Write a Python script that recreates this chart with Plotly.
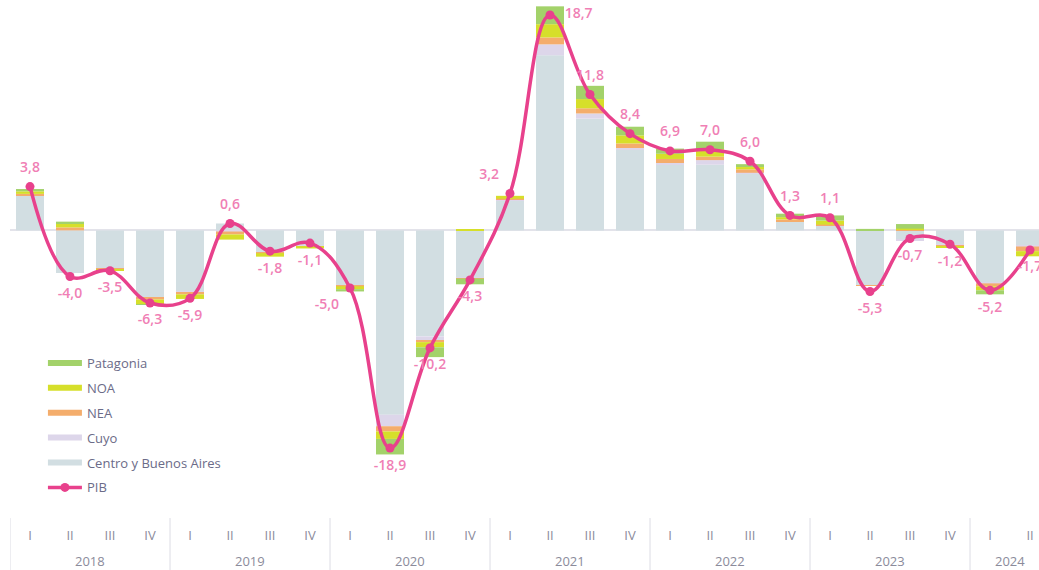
import plotly.graph_objects as go

# Quarters and years
years = ["2018", "2019", "2020", "2021", "2022", "2023", "2024"]
quarters = ["I", "II", "III", "IV"] * 6 + ["I", "II"]
periods = [f"{q} {years[i // 4]}" for i, q in enumerate(quarters)]

# PIB variation (line)
pib = [3.8, -4.0, -3.5, -6.3, -5.9, 0.6, -1.8, -1.1, -5.0, -18.9, -10.2, -4.3,
       3.2, 18.7, 11.8, 8.4, 6.9, 7.0, 6.0, 1.3, 1.1, -5.3, -0.7, -1.2, -5.2, -1.7]

# Regional contributions (stacked bars)
centro = [3.0, -3.7, -3.3, -5.8, -5.3, 0.6, -1.9, -1.35, -4.75, -16.0, -9.2, -4.1,
          2.6, 15.2, 9.7, 7.0, 5.7, 5.7, 4.95, 0.75, 0.45, -4.75, -0.8, -1.25, -4.55, -1.35]
cuyo = [0.05, 0.0, -0.02, -0.05, -0.05, -0.1, -0.03, -0.02, -0.05, -1.0, -0.35, -0.05,
        0.05, 0.95, 0.45, 0.15, 0.15, 0.4, 0.05, 0.05, 0.0, -0.05, -0.05, -0.03, -0.05, -0.05]
nea = [0.12, 0.26, -0.08, -0.15, -0.2, -0.25, -0.05, -0.03, -0.05, -0.45, -0.15, -0.03,
       0.1, 0.6, 0.45, 0.4, 0.35, 0.3, 0.3, 0.15, 0.05, -0.02, 0.05, -0.09, -0.25, -0.4]
noa = [0.22, 0.35, -0.05, -0.4, -0.4, -0.45, -0.3, -0.17, -0.25, -0.65, -0.45, 0.05,
       0.25, 1.15, 0.8, 0.7, 0.45, 0.65, 0.2, 0.2, 0.35, 0.03, 0.1, -0.14, -0.35, -0.45]
patagonia = [0.2, 0.15, 0.0, -0.02, 0.0, 0.0, 0.0, 0.0, -0.2, -1.35, -0.85, -0.5,
             0.0, 1.55, 1.15, 0.75, 0.45, 0.65, 0.25, 0.3, 0.45, 0.1, 0.4, 0.0, -0.35, 0.0]

regions = [
    ("Centro y Buenos Aires", centro, "#d2dee2"),
    ("Cuyo", cuyo, "#ddd6ea"),
    ("NEA", nea, "#f4ad6c"),
    ("NOA", noa, "#d6df2a"),
    ("Patagonia", patagonia, "#a3d26a"),
]

PINK = "#e8418c"
FONT = "Open Sans"
GRID = "#dcdce4"

fig = go.Figure()

# bars, stacked bottom-up (legend handled separately)
for name, vals, col in regions:
    fig.add_trace(go.Bar(x=periods, y=vals, name=name, marker_color=col, marker_line_width=0,
                         legendgroup=name, showlegend=False))

# legend entries drawn as wide bands, top-to-bottom order
for name, vals, col in reversed(regions):
    fig.add_trace(go.Scatter(x=[None], y=[None], mode="lines", name=name,
                             line=dict(color=col, width=6), legendgroup=name))

fig.add_trace(go.Scatter(
    x=periods, y=pib, name="PIB", mode="lines+markers",
    line=dict(color=PINK, width=3.5, shape="spline", smoothing=1.1),
    marker=dict(color=PINK, size=9),
    legendgroup="PIB",
))

# value labels (invisible larger markers push the text a bit further out)
labels = [f"{v:.1f}".replace(".", ",") for v in pib]
positions = ["top center" if v > 0 else "bottom center" for v in pib]
positions[13] = "middle right"
labels[13] = " " + labels[13]
positions[12] = "top left"
positions[8] = "bottom left"
fig.add_trace(go.Scatter(
    x=periods, y=pib, mode="markers+text", showlegend=False, hoverinfo="skip",
    marker=dict(size=16, opacity=0),
    text=labels, textposition=positions,
    textfont=dict(color="#f07fb5", size=14, family=FONT, weight=600),
    legendgroup="PIB",
))

# year labels and dividers under the quarter ticks
for i, yr in enumerate(years):
    n = quarters[4 * i:4 * i + 4]
    fig.add_annotation(x=4 * i + (len(n) - 1) / 2, y=-0.0851, xref="x", yref="paper",
                       text=yr, showarrow=False, yanchor="middle",
                       font=dict(color="#8b8b9b", size=13, family=FONT))
    fig.add_shape(type="line", x0=4 * i - 0.5, x1=4 * i - 0.5, xref="x", yref="paper",
                  y0=-0.002, y1=-0.11, line=dict(color=GRID, width=1))

fig.update_layout(
    width=1039, height=570,
    margin=dict(l=10, r=0, t=0, b=53),
    barmode="relative", bargap=0.3,
    plot_bgcolor="white", paper_bgcolor="white",
    font=dict(family=FONT, color="#8b8b9b", size=13),
    legend=dict(x=0.032, y=0.327, xanchor="left", yanchor="top",
                traceorder="grouped", tracegroupgap=5, itemwidth=34,
                font=dict(color="#6b6b88", size=13), bgcolor="rgba(0,0,0,0)"),
)
fig.update_xaxes(range=[-0.5, 25.225], showgrid=False, showline=False,
                 tickvals=periods, ticktext=quarters,
                 ticks="outside", ticklen=6, tickcolor="rgba(0,0,0,0)",
                 tickfont=dict(color="#8b8b9b", size=13))
fig.update_yaxes(range=[-24.88, 20.0], showgrid=False, showticklabels=False,
                 zeroline=True, zerolinecolor="#e3e3ea", zerolinewidth=2)

fig.write_html("out.html", config={"displayModeBar": False},
               post_script="document.body.style.margin='0';")
